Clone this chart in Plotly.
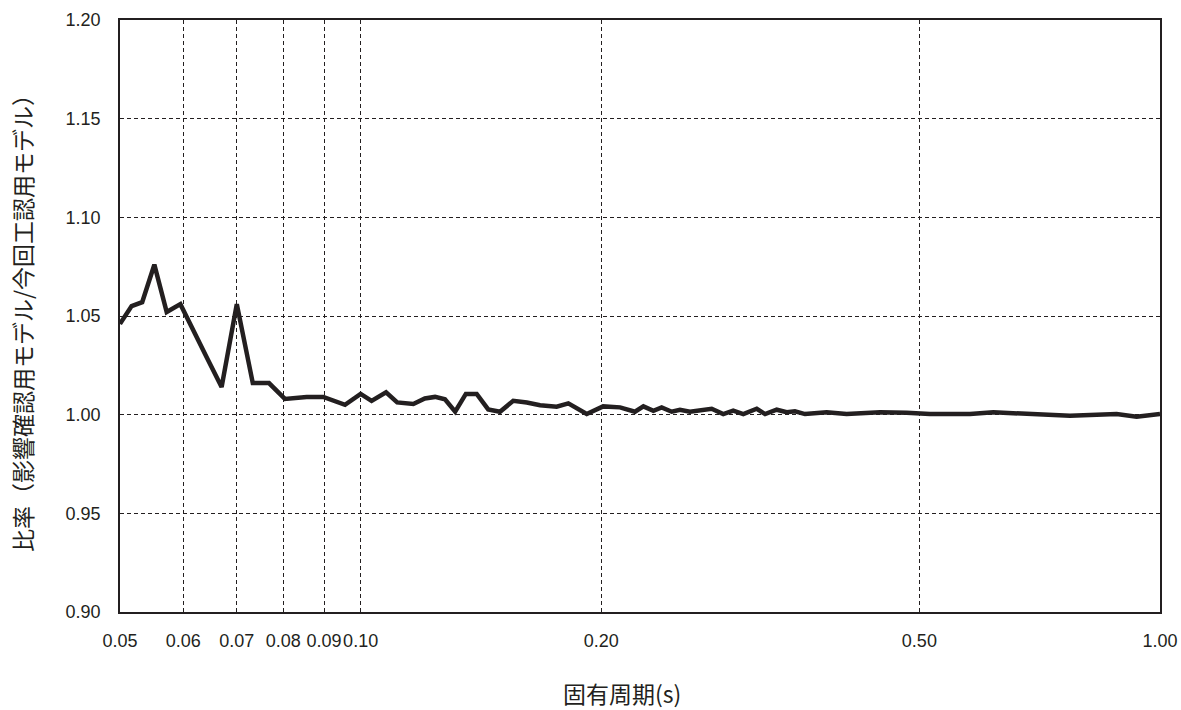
import math
import plotly.graph_objects as go

periods = [0.05, 0.0517, 0.0533, 0.0552, 0.0572, 0.0595, 0.0642, 0.0670, 0.0700, 0.0733,
           0.0768, 0.0804, 0.0856, 0.0898, 0.0956, 0.1000, 0.1032, 0.1076, 0.1111, 0.1164,
           0.1203, 0.1239, 0.1275, 0.1313, 0.1354, 0.1397, 0.1444, 0.1494, 0.1552, 0.1614,
           0.1677, 0.1759, 0.1819, 0.1918, 0.2011, 0.2111, 0.2204, 0.2258, 0.2324, 0.2380,
           0.2450, 0.2509, 0.2582, 0.2696, 0.2749, 0.2842, 0.2925, 0.3011, 0.3130, 0.3206,
           0.3315, 0.3412, 0.3494, 0.3597, 0.3828, 0.4055, 0.4465, 0.4820, 0.5154, 0.5785,
           0.6188, 0.7717, 0.8825, 0.9349, 1.0]
ratios = [1.046, 1.055, 1.057, 1.076, 1.052, 1.056, 1.029, 1.014, 1.056, 1.016,
          1.016, 1.008, 1.009, 1.009, 1.005, 1.0105, 1.007, 1.0113, 1.0062, 1.0054,
          1.0082, 1.009, 1.0078, 1.0015, 1.0105, 1.0105, 1.0027, 1.0015, 1.007, 1.0062,
          1.0048, 1.004, 1.0057, 1.0003, 1.0042, 1.0037, 1.0015, 1.0042, 1.002, 1.0037,
          1.0015, 1.0025, 1.0015, 1.0025, 1.003, 1.0003, 1.002, 1.0003, 1.003, 1.0003,
          1.0025, 1.0012, 1.0017, 1.0003, 1.0012, 1.0003, 1.0012, 1.001, 1.0003, 1.0003,
          1.0012, 0.9994, 1.0003, 0.999, 1.0003]

x_ticks = [0.05, 0.06, 0.07, 0.08, 0.09, 0.10, 0.20, 0.50, 1.00]
x_tick_labels = ["0.05", "0.06", "0.07", "0.08", "0.09", "0.10", "0.20", "0.50", "1.00"]
y_ticks = [0.90, 0.95, 1.00, 1.05, 1.10, 1.15, 1.20]

x_title = "固有周期(s)"
y_title = "比率（影響確認用モデル/今回工認用モデル）"

fig = go.Figure()
fig.add_trace(go.Scatter(x=periods, y=ratios, mode="lines",
                         line=dict(color="#231f20", width=4.5), showlegend=False))

tick_font = dict(family="Liberation Sans, Arial, sans-serif", size=18, color="#231f20")
title_font = dict(family="Noto Sans CJK JP, sans-serif", size=23, color="#231f20")

fig.update_xaxes(type="log", range=[math.log10(0.05), 0.0], automargin=False,
                 tickvals=x_ticks, ticktext=x_tick_labels, tickfont=tick_font, tickangle=0,
                 showgrid=True, gridcolor="#231f20", gridwidth=1, griddash="4px,3px",
                 showline=True, linecolor="#231f20", linewidth=1.5, mirror=True,
                 ticks="", zeroline=False, ticklabelstandoff=12)
fig.update_yaxes(range=[0.9, 1.2], tickvals=y_ticks, automargin=False,
                 ticktext=[f"{v:.2f}" for v in y_ticks], tickfont=tick_font,
                 showgrid=True, gridcolor="#231f20", gridwidth=1, griddash="4px,3px",
                 showline=True, linecolor="#231f20", linewidth=1.5, mirror=True,
                 ticks="", zeroline=False, ticklabelstandoff=14)

fig.add_annotation(text=x_title, xref="paper", yref="paper", x=(622 - 120) / 1040, y=0,
                   yshift=-81, showarrow=False, font=title_font, xanchor="center", yanchor="middle")
fig.add_annotation(text=y_title, xref="paper", yref="paper", x=0, y=(612 - 318) / 592,
                   xshift=-98, showarrow=False, font=title_font, textangle=-90,
                   xanchor="center", yanchor="middle")

fig.update_layout(width=1181, height=710, margin=dict(l=120, r=21, t=20, b=98, autoexpand=False),
                  plot_bgcolor="white", paper_bgcolor="white")
fig.write_html("out.html", config={"displayModeBar": False},
               post_script="document.body.style.margin='0px';document.body.style.overflow='hidden';")
